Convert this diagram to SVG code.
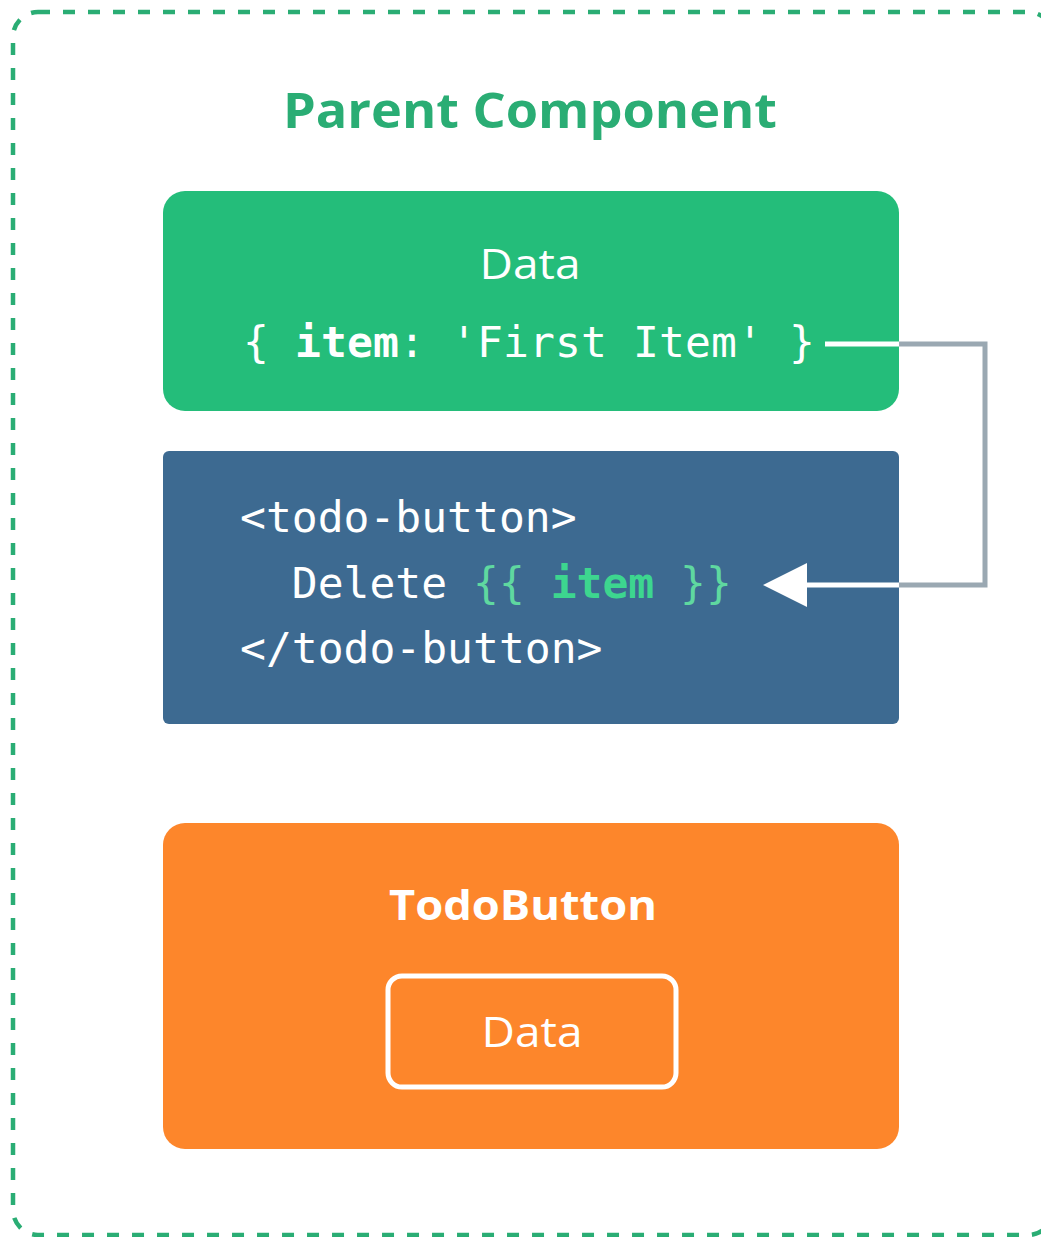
<svg xmlns="http://www.w3.org/2000/svg" width="1041" height="1237" viewBox="0 0 1041 1237">
<style>
.title{font-family:"Open Sans","Liberation Sans",sans-serif;font-weight:700;font-size:49px;fill:#2aad74}
.label{font-family:"Open Sans","Liberation Sans",sans-serif;font-size:42px;fill:#fff}
.bold{font-weight:700}
.code{font-family:"DejaVu Sans Mono","Liberation Mono",monospace;font-size:43px;fill:#fff}
.conn{fill:none;stroke-width:5}
</style>
<rect x="13" y="12" width="1040" height="1223" rx="25" fill="none" stroke="#2aad74" stroke-width="4.5" stroke-dasharray="12 13"/>
<text class="title" x="530" y="128" text-anchor="middle" textLength="494" lengthAdjust="spacingAndGlyphs">Parent Component</text>
<g id="data">
<rect x="163" y="191" width="736" height="220" rx="22" fill="#24bd7a"/>
<text class="label" x="530" y="279" text-anchor="middle" textLength="101" lengthAdjust="spacingAndGlyphs">Data</text>
<text class="code" x="243" y="357" xml:space="preserve" textLength="572" lengthAdjust="spacing">{ <tspan class="bold">item</tspan>: 'First Item' }</text>
</g>
<g id="template">
<rect x="163" y="451" width="736" height="273" rx="6" fill="#3d6a91"/>
<text class="code" x="240" y="532">&lt;todo-button&gt;</text>
<text class="code" x="240" y="598" xml:space="preserve">  Delete <tspan fill="#5fd8a0">{{ </tspan><tspan class="bold" fill="#3dd68f">item</tspan><tspan fill="#5fd8a0"> }}</tspan></text>
<text class="code" x="240" y="663">&lt;/todo-button&gt;</text>
</g>
<g id="todobutton">
<rect x="163" y="823" width="736" height="326" rx="22" fill="#fd862b"/>
<text class="label bold" x="523" y="920" text-anchor="middle" textLength="268" lengthAdjust="spacingAndGlyphs">TodoButton</text>
<rect x="388" y="976" width="288" height="111" rx="14" fill="none" stroke="#fff" stroke-width="5"/>
<text class="label" x="532" y="1047" text-anchor="middle" textLength="101" lengthAdjust="spacingAndGlyphs">Data</text>
</g>
<g id="connectors">
<polyline class="conn" stroke="#9aa8b2" points="899,344 985,344 985,585 899,585"/>
<line class="conn" stroke="#fff" x1="825" y1="344" x2="899" y2="344"/>
<line class="conn" stroke="#fff" x1="800" y1="585" x2="899" y2="585"/>
<polygon fill="#fff" points="763,585 807,563 807,607"/>
</g>
</svg>
